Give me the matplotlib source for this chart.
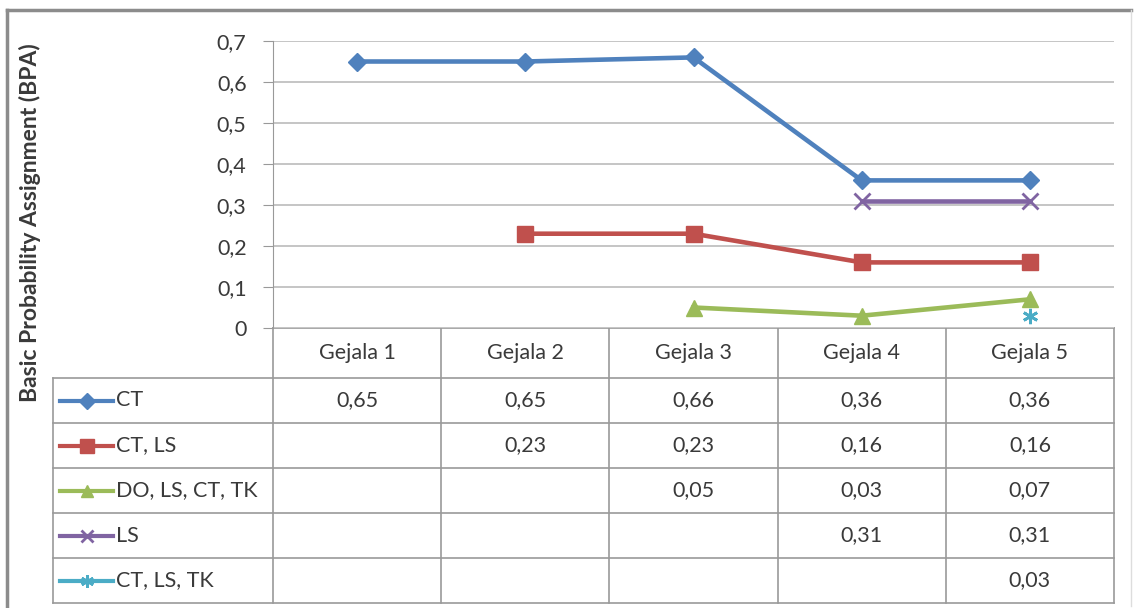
import numpy as np
import matplotlib.pyplot as plt
from matplotlib.lines import Line2D

plt.rcParams['font.family'] = ['Lato', 'DejaVu Sans']

categories = ['Gejala 1', 'Gejala 2', 'Gejala 3', 'Gejala 4', 'Gejala 5']
series_names = ['CT', 'CT, LS', 'DO, LS, CT, TK', 'LS', 'CT, LS, TK']
ct = [0.65, 0.65, 0.66, 0.36, 0.36]
ct_ls = [None, 0.23, 0.23, 0.16, 0.16]
do_ls_ct_tk = [None, None, 0.05, 0.03, 0.07]
ls = [None, None, None, 0.31, 0.31]
ct_ls_tk = [None, None, None, None, 0.03]
yticks = [0, 0.1, 0.2, 0.3, 0.4, 0.5, 0.6, 0.7]

values = [ct, ct_ls, do_ls_ct_tk, ls, ct_ls_tk]
colors = ['#4F81BD', '#C0504D', '#9BBB59', '#8064A2', '#4BACC6']
markers = ['D', 's', '^', 'x', (6, 2, 0)]
msizes = [9, 12, 11, 11, 11]
txt = '#3A3A3A'
fs = 15.5

W, H = 1134, 608
fig = plt.figure(figsize=(W / 100, H / 100), dpi=100)

# pixel layout
left, right, top, bottom = 273, 1114, 41, 328
leg_left = 53
row_h = 45
head_h = 50

ax = fig.add_axes([left / W, 1 - bottom / H, (right - left) / W, (bottom - top) / H])
n = len(categories)
x = np.arange(n)
for vals, c, m, ms in zip(values, colors, markers, msizes):
    y = np.array([np.nan if v is None else v for v in vals])
    thin = m == 'x' or isinstance(m, tuple)
    ax.plot(x, y, color=c, lw=3.3, marker=m, ms=ms, mew=2 if thin else 1,
            mec=c, mfc=c, zorder=3)

ax.set_xlim(-0.5, n - 0.5)
ax.set_ylim(0, 0.7)
ax.set_yticks(yticks)
ax.set_yticklabels([('%g' % t).replace('.', ',') for t in yticks], fontsize=fs, color=txt)
ax.set_xticks([])
ax.grid(axis='y', color='#BBBBBB', lw=1.2)
ax.set_axisbelow(True)
for s in ['top', 'right', 'bottom']:
    ax.spines[s].set_visible(False)
ax.spines['left'].set_color('#999999')
ax.tick_params(axis='y', length=7, color='#999999', pad=12)

# overlay in pixel coordinates for the data table and frame
ov = fig.add_axes([0, 0, 1, 1], zorder=-1)
ov.set_xlim(0, W)
ov.set_ylim(H, 0)
ov.axis('off')

lc = '#9A9A9A'
colw = (right - left) / n
xs = [left + i * colw for i in range(n + 1)]
ys = [bottom + head_h + i * row_h for i in range(len(series_names) + 1)]

ov.plot([left, right], [bottom, bottom], color=lc, lw=1.2)
for xv in xs:
    ov.plot([xv, xv], [bottom, ys[-1]], color=lc, lw=1.2)
ov.plot([leg_left, leg_left], [ys[0], ys[-1]], color=lc, lw=1.2)
for yv in ys:
    ov.plot([leg_left, right], [yv, yv], color=lc, lw=1.2)

for i, cat in enumerate(categories):
    ov.text(xs[i] + colw / 2, bottom + head_h / 2, cat, ha='center', va='center',
            fontsize=fs, color=txt)

for r, (name, vals, c, m, ms) in enumerate(zip(series_names, values, colors, markers, msizes)):
    yc = ys[r] + row_h / 2
    ov.add_line(Line2D([60, 113], [yc, yc], color=c, lw=3))
    ov.plot([86.5], [yc], marker=m, ms=ms * 0.85, color=c, mec=c,
            mew=2 if m == 'x' or isinstance(m, tuple) else 1)
    ov.text(116, yc, name, ha='left', va='center', fontsize=fs, color=txt)
    for i, v in enumerate(vals):
        if v is not None:
            ov.text(xs[i] + colw / 2, yc, ('%.2f' % v).replace('.', ','), ha='center',
                    va='center', fontsize=fs, color=txt)

ov.text(30, 223, 'Basic Probability Assignment (BPA)', rotation=90, ha='center', va='center',
        fontsize=16.5, fontweight='bold', color=txt)

# chart frame
ov.plot([7, 7], [10, 606], color='#8C8C8C', lw=2.5)
ov.plot([7, 1131], [10, 10], color='#8C8C8C', lw=2.5)
ov.plot([1131, 1131], [10, 606], color='#DDDDDD', lw=1)

fig.savefig('out.png', dpi=100, facecolor='white')
